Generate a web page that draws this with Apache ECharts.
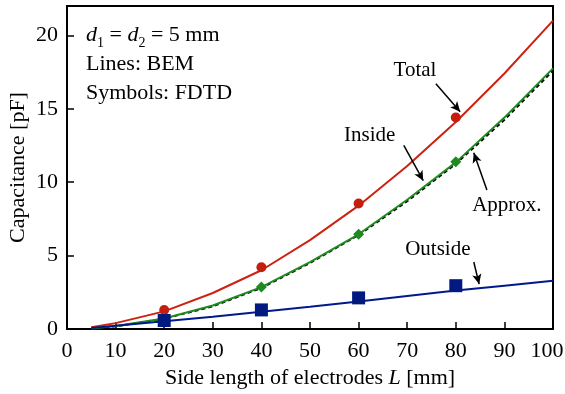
<!DOCTYPE html>
<html>
<head>
<meta charset="utf-8">
<script src="https://cdn.jsdelivr.net/npm/echarts@6/dist/echarts.min.js"></script>
<style>
  html, body { margin: 0; padding: 0; background: #fff; }
  #chart { width: 565px; height: 394px; }
</style>
</head>
<body>
<div id="chart"></div>
<script>
// side length L [mm]
const lengths = [5, 10, 20, 30, 40, 50, 60, 70, 80, 90, 100]
// BEM lines
const totalBem = [0.12, 0.4, 1.2, 2.45, 4.0, 6.05, 8.4, 11.1, 14.1, 17.4, 21.0]
const insideBem = [0.03, 0.2, 0.72, 1.6, 2.85, 4.55, 6.45, 8.8, 11.35, 14.4, 17.75]
const approx = [0.02, 0.18, 0.7, 1.55, 2.8, 4.5, 6.4, 8.7, 11.25, 14.25, 17.6]
const outsideBem = [0.07, 0.22, 0.52, 0.84, 1.18, 1.52, 1.88, 2.25, 2.62, 2.95, 3.28]
// FDTD symbols
const fdtdLengths = [20, 40, 60, 80]
const totalFdtd = [1.3, 4.2, 8.55, 14.4]
const insideFdtd = [0.75, 2.86, 6.46, 11.4]
const outsideFdtd = [0.58, 1.3, 2.12, 2.95]
const yTicks = [0, 5, 10, 15, 20]

// annotation labels [text, x, y] and arrows [[x1,y1],[x2,y2]] in data units
const labels = [
  ['Total', 71.6, 17.6],
  ['Inside', 62.3, 13.2],
  ['Approx.', 90.5, 8.4],
  ['Outside', 76.3, 5.4]
]
const arrows = [
  [[75.9, 16.7], [80.9, 14.8]],
  [[69.3, 12.5], [73.3, 10.1]],
  [[86.4, 9.46], [83.7, 12.0]],
  [[83.7, 4.56], [84.8, 3.06]]
]

const font = '"Liberation Serif", "Times New Roman", serif'
const pair = (xs, ys) => xs.map((x, i) => [x, ys[i]])

let myChart = echarts.init(document.getElementById('chart'))

let option = {
  animation: false,
  textStyle: { fontFamily: font },
  grid: {
    left: 67, right: 12, top: 6, bottom: 65,
    outerBoundsMode: 'none',
    show: true, borderColor: '#000', borderWidth: 2
  },
  xAxis: {
    type: 'value', min: 0, max: 100, interval: 10,
    name: 'Side length of electrodes {i|L} [mm]',
    nameLocation: 'middle', nameGap: 38,
    nameTextStyle: {
      fontFamily: font, fontSize: 22, color: '#000',
      rich: { i: { fontFamily: font, fontSize: 22, fontStyle: 'italic', color: '#000' } }
    },
    axisLine: { lineStyle: { color: '#000', width: 2 } },
    axisTick: { inside: true, length: 7, lineStyle: { color: '#000', width: 1.5 } },
    axisLabel: {
      fontFamily: font, fontSize: 22, color: '#000', margin: 11,
      // keep the last label inside the picture
      formatter: v => v === 100 ? '{m|100}' : String(v),
      rich: { m: { fontFamily: font, fontSize: 22, color: '#000', padding: [0, 12, 0, 0] } }
    },
    splitLine: { show: false }
  },
  yAxis: {
    type: 'value', min: 0, max: 22, interval: 5,
    name: 'Capacitance [pF]',
    nameLocation: 'middle', nameGap: 38, nameMoveOverlap: false,
    nameTextStyle: { fontFamily: font, fontSize: 22, color: '#000' },
    axisLine: { lineStyle: { color: '#000', width: 2 } },
    axisTick: { inside: true, length: 7, lineStyle: { color: '#000', width: 1.5 } },
    axisLabel: {
      fontFamily: font, fontSize: 22, color: '#000', margin: 9,
      formatter: v => yTicks.includes(v) ? String(v) : ''
    },
    splitLine: { show: false }
  },
  graphic: [
    {
      type: 'text', left: 86, top: 21,
      style: {
        text: '{i|d}{s|1} = {i|d}{s|2} = 5 mm\nLines: BEM\nSymbols: FDTD',
        font: '22px ' + font, fill: '#000', lineHeight: 29,
        rich: {
          i: { fontStyle: 'italic', fontSize: 22, fontFamily: font, lineHeight: 29 },
          s: { fontSize: 14, fontFamily: font, verticalAlign: 'bottom', padding: [9, 0, 0, 0], lineHeight: 29 }
        }
      }
    }
  ],
  series: [
    {
      type: 'line', name: 'Approx.', data: pair(lengths, approx),
      showSymbol: false, symbol: 'none', z: 2,
      lineStyle: { color: '#000', width: 2, type: [4, 3] }
    },
    {
      type: 'line', name: 'Inside', data: pair(lengths, insideBem),
      symbol: 'none', z: 3,
      lineStyle: { color: '#1f8a1f', width: 2 }
    },
    {
      type: 'line', name: 'Total', data: pair(lengths, totalBem),
      symbol: 'none', z: 3,
      lineStyle: { color: '#cc2211', width: 2 }
    },
    {
      type: 'line', name: 'Outside', data: pair(lengths, outsideBem),
      symbol: 'none', z: 3,
      lineStyle: { color: '#001a8c', width: 2 },
      markPoint: {
        symbol: 'circle', symbolSize: 0,
        label: { show: true, position: 'inside', fontFamily: font, fontSize: 21, color: '#000' },
        data: labels.map(l => ({ coord: [l[1], l[2]], value: l[0] }))
      },
      markLine: {
        silent: true, symbol: ['none', 'arrow'], symbolSize: [7, 10],
        label: { show: false },
        lineStyle: { color: '#000', width: 1.5, type: 'solid' },
        data: arrows.map(a => [{ coord: a[0] }, { coord: a[1] }])
      }
    },
    {
      type: 'scatter', data: pair(fdtdLengths, totalFdtd),
      symbol: 'circle', symbolSize: 10, z: 4,
      itemStyle: { color: '#c41e0e', opacity: 1 }
    },
    {
      type: 'scatter', data: pair(fdtdLengths, insideFdtd),
      symbol: 'diamond', symbolSize: 11, z: 4,
      itemStyle: { color: '#1f8a1f', opacity: 1 }
    },
    {
      type: 'scatter', data: pair(fdtdLengths, outsideFdtd),
      symbol: 'rect', symbolSize: 13, z: 4,
      itemStyle: { color: '#001a80', opacity: 1 }
    }
  ]
}

myChart.setOption(option)
window.addEventListener('resize', () => { myChart.resize() })
</script>
</body>
</html>
